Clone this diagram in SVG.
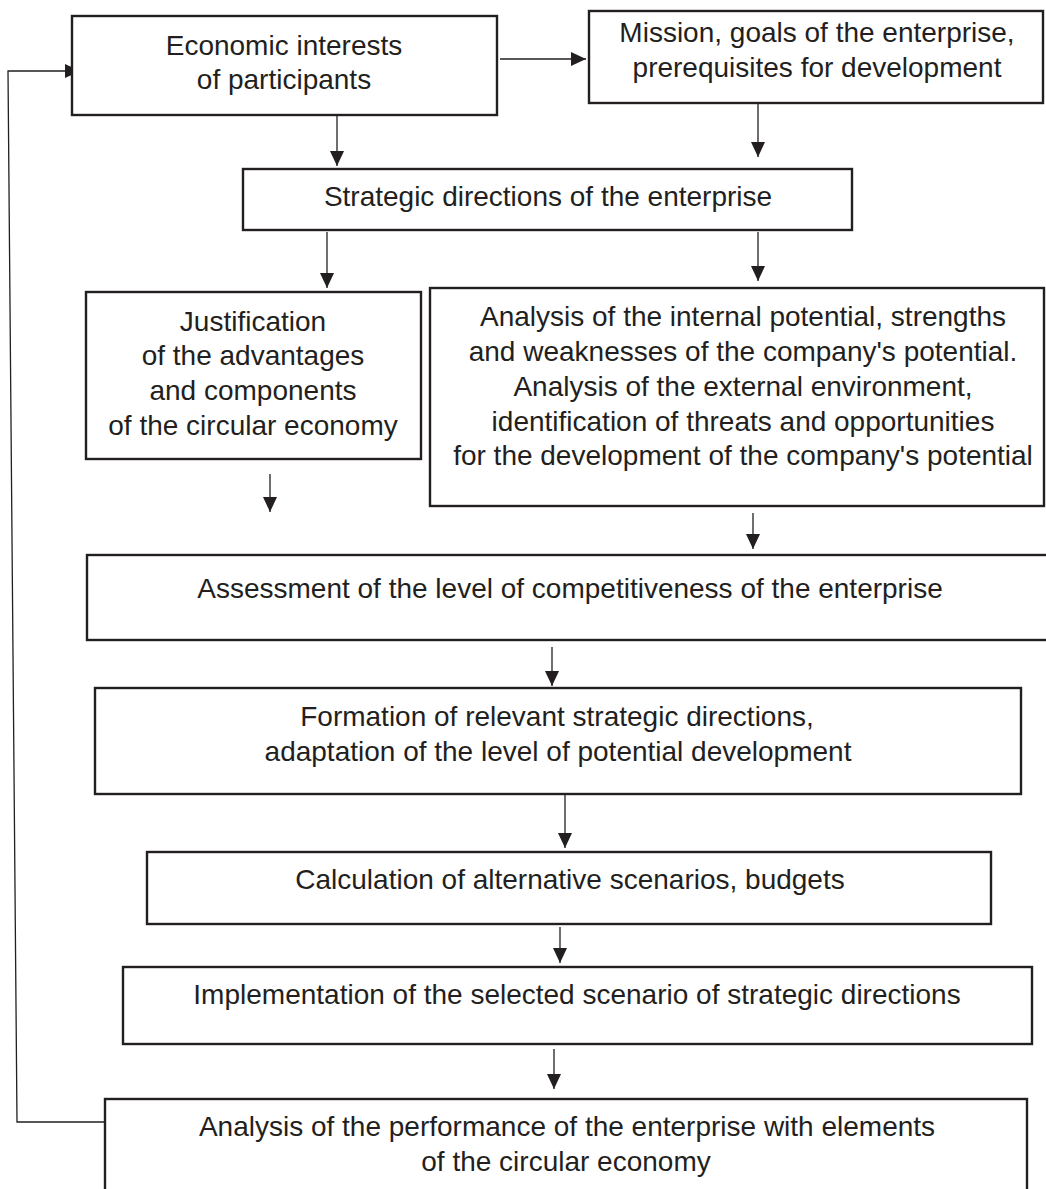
<svg xmlns="http://www.w3.org/2000/svg" width="1046" height="1189" viewBox="0 0 1046 1189">
<defs>
<marker id="ah" markerUnits="userSpaceOnUse" markerWidth="16" markerHeight="14" refX="15" refY="7" orient="auto">
<path d="M0,0 L15,7 L0,14 z" fill="#231f20"/>
</marker>
<style>
.box{fill:#fff;stroke:#231f20;stroke-width:2.4}
.t{font-family:"Liberation Sans",Arial,sans-serif;font-size:28px;fill:#231f20;text-anchor:middle}
.c{fill:none;stroke:#231f20;stroke-width:1.3}
</style>
</defs>
<rect width="1046" height="1189" fill="#fff"/>
<g id="connectors">
<line class="c" x1="500" y1="59" x2="586" y2="59" marker-end="url(#ah)"/>
<line class="c" x1="337" y1="112" x2="337" y2="166" marker-end="url(#ah)"/>
<line class="c" x1="758" y1="103" x2="758" y2="157" marker-end="url(#ah)"/>
<line class="c" x1="327" y1="232" x2="327" y2="288" marker-end="url(#ah)"/>
<line class="c" x1="758" y1="232" x2="758" y2="281" marker-end="url(#ah)"/>
<line class="c" x1="270" y1="474" x2="270" y2="512" marker-end="url(#ah)"/>
<line class="c" x1="753" y1="513" x2="753" y2="549" marker-end="url(#ah)"/>
<line class="c" x1="552" y1="647" x2="552" y2="686" marker-end="url(#ah)"/>
<line class="c" x1="565" y1="794" x2="565" y2="848" marker-end="url(#ah)"/>
<line class="c" x1="560" y1="927" x2="560" y2="963" marker-end="url(#ah)"/>
<line class="c" x1="554" y1="1049" x2="554" y2="1089" marker-end="url(#ah)"/>
<polyline class="c" points="105,1122 17,1122 8,71 80,71" marker-end="url(#ah)"/>
</g>
<g id="n1"><rect class="box" x="72" y="16" width="425" height="99"/>
<text class="t" x="284" y="55">Economic interests</text><text class="t" x="284" y="89">of participants</text></g>
<g id="n2"><rect class="box" x="589" y="11" width="454" height="92"/>
<text class="t" x="817" y="42">Mission, goals of the enterprise,</text><text class="t" x="817" y="77">prerequisites for development</text></g>
<g id="n3"><rect class="box" x="243" y="169" width="609" height="61"/>
<text class="t" x="548" y="206">Strategic directions of the enterprise</text></g>
<g id="n4"><rect class="box" x="86" y="292" width="335" height="167"/>
<text class="t" x="253" y="331">Justification</text><text class="t" x="253" y="365">of the advantages</text><text class="t" x="253" y="400">and components</text><text class="t" x="253" y="435">of the circular economy</text></g>
<g id="n5"><rect class="box" x="430" y="288" width="614" height="218"/>
<text class="t" x="743" y="326">Analysis of the internal potential, strengths</text><text class="t" x="743" y="361">and weaknesses of the company's potential.</text><text class="t" x="743" y="396">Analysis of the external environment,</text><text class="t" x="743" y="431">identification of threats and opportunities</text><text class="t" x="743" y="465">for the development of the company's potential</text></g>
<g id="n6"><rect class="box" x="87" y="555" width="970" height="85"/>
<text class="t" x="570" y="598">Assessment of the level of competitiveness of the enterprise</text></g>
<g id="n7"><rect class="box" x="95" y="688" width="926" height="106"/>
<text class="t" x="557" y="726">Formation of relevant strategic directions,</text><text class="t" x="558" y="761">adaptation of the level of potential development</text></g>
<g id="n8"><rect class="box" x="147" y="852" width="844" height="72"/>
<text class="t" x="570" y="889">Calculation of alternative scenarios, budgets</text></g>
<g id="n9"><rect class="box" x="123" y="967" width="909" height="77"/>
<text class="t" x="577" y="1004">Implementation of the selected scenario of strategic directions</text></g>
<g id="n10"><rect class="box" x="105" y="1099" width="922" height="110"/>
<text class="t" x="567" y="1136">Analysis of the performance of the enterprise with elements</text><text class="t" x="566" y="1171">of the circular economy</text></g>
</svg>
